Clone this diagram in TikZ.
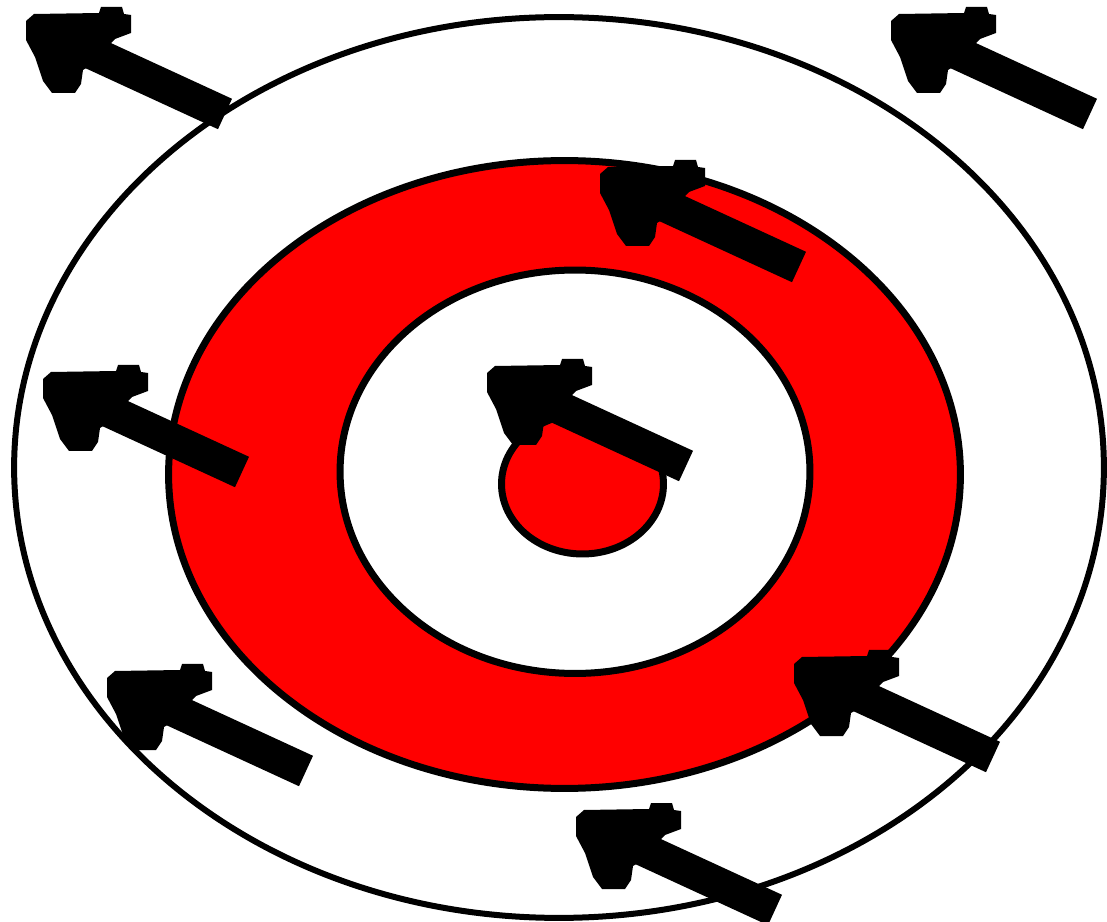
\documentclass[tikz,border=0pt]{standalone}
\begin{document}
\begin{tikzpicture}[x=0.02cm,y=-0.02cm,
  outerline/.style={draw=black,line width=0.12cm},
  ring/.style={draw=black,line width=0.14cm},
  redfill/.style={ring,fill=red},
  whitefill/.style={ring,fill=white},
  shaftline/.style={draw=black,line width=0.67cm,line cap=butt},
  headfill/.style={fill=black},
  blockarrow/.pic={
    \fill[headfill] (0,14) -- (8,7) -- (73,6) -- (75,0) -- (96,0) -- (98,7) -- (105,8) -- (105,26) -- (89,32)
      -- (62,60) -- (57,63) -- (55,77) -- (49,86) -- (26,86) -- (17,74) -- (9,50) -- (0,33) -- cycle;
    \draw[shaftline] (199,107) -- (60,43);
  }]
\useasboundingbox (0,0) rectangle (1107,922);
\fill[white] (0,0) rectangle (1107,922);
% outer thin ellipse
\draw[outerline] (559,467.5) ellipse [x radius=10.9cm, y radius=9.01cm];
% red ring
\draw[redfill] (564.5,474.5) ellipse [x radius=7.92cm, y radius=6.28cm];
\draw[whitefill] (575,471.75) ellipse [x radius=4.7cm, y radius=4.035cm];
% small red core
\draw[redfill] (582.5,484) ellipse [x radius=1.62cm, y radius=1.4cm];
% arrows
\pic (a1) at (26,7) {blockarrow};
\pic (a2) at (891,7) {blockarrow};
\pic (a3) at (600,160) {blockarrow};
\pic (a4) at (43,365) {blockarrow};
\pic (a5) at (487,359) {blockarrow};
\pic (a6) at (107,664) {blockarrow};
\pic (a7) at (794,650) {blockarrow};
\pic (a8) at (576,803) {blockarrow};
\end{tikzpicture}
\end{document}
